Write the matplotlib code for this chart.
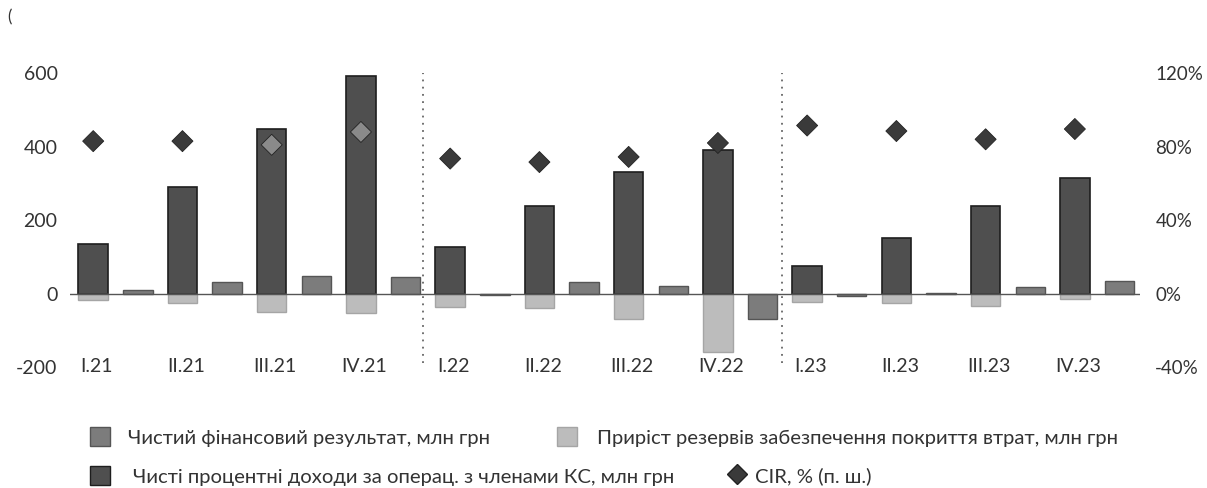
import matplotlib.pyplot as plt
from matplotlib.patches import Patch
from matplotlib.lines import Line2D
import numpy as np

plt.rcParams['font.family'] = ['Lato', 'DejaVu Sans']
plt.rcParams['axes.unicode_minus'] = False

quarters = ['I.21', 'II.21', 'III.21', 'IV.21',
            'I.22', 'II.22', 'III.22', 'IV.22',
            'I.23', 'II.23', 'III.23', 'IV.23']
# чисті процентні доходи, млн грн
nii = [136, 289, 448, 592, 126, 238, 330, 392, 74, 152, 239, 315]
# приріст резервів, млн грн
reserves = [-17, -27, -49, -53, -37, -39, -70, -160, -24, -25, -34, -14]
# чистий фінансовий результат, млн грн
net_result = [10, 31, 49, 44, -3, 32, 20, -69, -8, 2, 17, 34]
# CIR, %
cir = [83, 83, 81, 88, 73.5, 71.6, 74.4, 82, 91.5, 88.5, 84, 89.6]

c_dark = '#4f4f4f'
c_mid = '#7c7c7c'
c_light = '#bcbcbc'
c_cir = '#3a3a3a'
c_text = '#333333'

fig = plt.figure(figsize=(12.07, 4.88), dpi=100)
ax = fig.add_axes([0.058, 0.248, 0.8865, 0.602])

x = np.arange(len(quarters))
w = 0.33
ax.bar(x, nii, w, color=c_dark, edgecolor='#1e1e1e', linewidth=1.2, zorder=2)
ax.bar(x, reserves, w, color=c_light, edgecolor='#a5a5a5', linewidth=1.0, zorder=2)
ax.bar(x + 0.5, net_result, w, color=c_mid, edgecolor='#555555', linewidth=1.0, zorder=2)
ax.axhline(0, color='#555555', linewidth=1.0, zorder=3)

# розділювачі між роками
for xv in (3.7, 7.72):
    ax.vlines(xv, -190, 600, colors='#666666', linestyles=(0, (1, 3)), linewidth=1.3, zorder=1)

ax.set_xlim(-0.26, 11.73)
ax.set_ylim(-200, 600)
ax.set_yticks([-200, 0, 200, 400, 600])
ax.set_xticks([])
ax.tick_params(axis='y', length=0, pad=9, labelsize=14, labelcolor=c_text)
for s in ax.spines.values():
    s.set_visible(False)

for i, q in enumerate(quarters):
    ax.text(i + 0.04, -200, q, ha='center', va='center', fontsize=14, color=c_text)

ax2 = ax.twinx()
ax2.set_ylim(-40, 120)
ax2.set_yticks([-40, 0, 40, 80, 120])
ax2.set_yticklabels([f'{v}%' for v in [-40, 0, 40, 80, 120]])
ax2.tick_params(axis='y', length=0, pad=11, labelsize=13.5, labelcolor=c_text)
for s in ax2.spines.values():
    s.set_visible(False)
# ромби, що потрапили всередину стовпчика, світліші
cir_cols = ['#8a8a8a' if c * 5 < v else c_cir for c, v in zip(cir, nii)]
ax2.scatter(x, cir, marker='D', s=115, c=cir_cols, edgecolors='#222222',
            linewidths=0.6, zorder=4)

fig.text(0.006, 0.955, '(', fontsize=12, color=c_text)

entries = [
    (Patch(facecolor=c_mid, edgecolor='#555555'), 'Чистий фінансовий результат, млн грн', 0.0746, 0.1045, 0.85),
    (Patch(facecolor=c_light, edgecolor='#a5a5a5'), 'Приріст резервів забезпечення покриття втрат, млн грн', 0.4615, 0.1045, 0.95),
    (Patch(facecolor=c_dark, edgecolor='#1e1e1e'), 'Чисті процентні доходи за операц. з членами КС, млн грн', 0.0746, 0.0246, 1.1),
    (Line2D([], [], marker='D', color='none', markerfacecolor=c_cir,
            markeredgecolor='#222222', markersize=10), 'CIR, % (п. ш.)', 0.6023, 0.0246, 0.4),
]
for h, lab, lx, ly, tp in entries:
    fig.legend([h], [lab], loc='center left', bbox_to_anchor=(lx, ly), frameon=False,
               borderpad=0, borderaxespad=0, handlelength=1.0, handleheight=1.0,
               handletextpad=tp, fontsize=14.6, labelcolor=c_text)

fig.savefig('out.png', dpi=100)
